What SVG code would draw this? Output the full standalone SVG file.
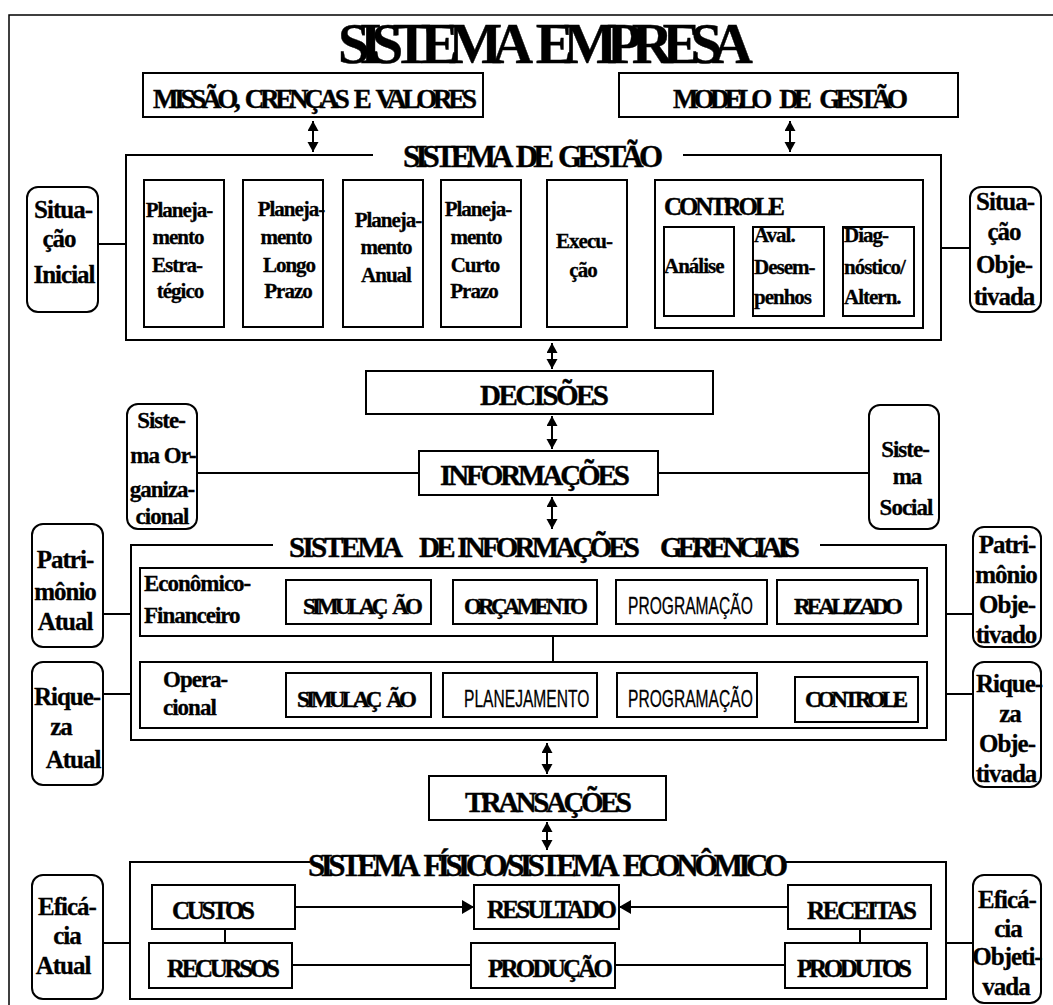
<svg xmlns="http://www.w3.org/2000/svg" width="1053" height="1005" viewBox="0 0 1053 1005">
<style>
.bx{fill:#fff;stroke:#000;stroke-width:2}
.fr{fill:none;stroke:#000;stroke-width:2}
.ln{fill:none;stroke:#000;stroke-width:2}
.t{font-family:"Liberation Serif","Times New Roman",serif;font-weight:bold;fill:#000;stroke:#000;stroke-width:0.4;word-spacing:6px}
.l{font-family:"Liberation Serif","Times New Roman",serif;font-weight:bold;fill:#000;stroke:#000;stroke-width:0.3;letter-spacing:-1px;text-anchor:middle}
.ls{text-anchor:start}
.s{font-family:"Liberation Sans",Arial,sans-serif;font-weight:normal;fill:#000;stroke:#000;stroke-width:0.3;font-size:24px}
.f20{font-size:21px}.f22{font-size:23px}.f24{font-size:25px}.f26{font-size:27px}.f28{font-size:29px}.f30{font-size:31px}
</style>
<defs>
<marker id="da" markerUnits="userSpaceOnUse" markerWidth="12" markerHeight="12" refX="10" refY="5.5" orient="auto-start-reverse"><path d="M0,0 L10,5.5 L0,11 z" fill="#000"/></marker>
<marker id="ah" markerUnits="userSpaceOnUse" markerWidth="14" markerHeight="16" refX="12" refY="7" orient="auto"><path d="M0,0 L12,7 L0,14 z" fill="#000"/></marker>
</defs>
<rect width="1053" height="1005" fill="#fff"/>
<path d="M9,1005 V15 H1053" fill="none" stroke="#000" stroke-width="1.5"/>
<text class="t" x="338" y="63" font-size="57" style="word-spacing:12px" textLength="415" lengthAdjust="spacing">SISTEMA EMPRESA</text>

<g id="connectors">
<line class="ln" x1="313" y1="121" x2="313" y2="152" stroke-width="1.5" marker-start="url(#da)" marker-end="url(#da)"/>
<line class="ln" x1="790" y1="121" x2="790" y2="152" stroke-width="1.5" marker-start="url(#da)" marker-end="url(#da)"/>
<line class="ln" x1="552" y1="343" x2="552" y2="369" stroke-width="1.5" marker-start="url(#da)" marker-end="url(#da)"/>
<line class="ln" x1="552" y1="416" x2="552" y2="449" stroke-width="1.5" marker-start="url(#da)" marker-end="url(#da)"/>
<line class="ln" x1="552" y1="497" x2="552" y2="529" stroke-width="1.5" marker-start="url(#da)" marker-end="url(#da)"/>
<line class="ln" x1="547" y1="743" x2="547" y2="774" stroke-width="1.5" marker-start="url(#da)" marker-end="url(#da)"/>
<line class="ln" x1="547" y1="822" x2="547" y2="850" stroke-width="1.5" marker-start="url(#da)" marker-end="url(#da)"/>
<line class="ln" x1="98" y1="244" x2="126" y2="244"/>
<line class="ln" x1="941" y1="248" x2="970" y2="248"/>
<line class="ln" x1="197" y1="473" x2="419" y2="473"/>
<line class="ln" x1="658" y1="473" x2="869" y2="473"/>
<line class="ln" x1="103" y1="614" x2="131" y2="614"/>
<line class="ln" x1="103" y1="694" x2="131" y2="694"/>
<line class="ln" x1="946" y1="614" x2="973" y2="614"/>
<line class="ln" x1="946" y1="694" x2="973" y2="694"/>
<line class="ln" x1="553" y1="636" x2="553" y2="662"/>
<line class="ln" x1="103" y1="943" x2="130" y2="943"/>
<line class="ln" x1="946" y1="943" x2="973" y2="943"/>
<line class="ln" x1="225" y1="929" x2="225" y2="943"/>
<line class="ln" x1="860" y1="929" x2="860" y2="943"/>
<line class="ln" x1="295" y1="907" x2="474" y2="907" marker-end="url(#ah)"/>
<line class="ln" x1="788" y1="907" x2="619" y2="907" marker-end="url(#ah)"/>
<line class="ln" x1="292" y1="965" x2="471" y2="965"/>
<line class="ln" x1="615" y1="965" x2="785" y2="965"/>
</g>

<g id="missao"><rect class="bx" x="143" y="73" width="340" height="44"/>
<text class="t f26" x="153" y="108" textLength="324" lengthAdjust="spacing">MISSÃO, CRENÇAS E VALORES</text></g>
<g id="modelo"><rect class="bx" x="619" y="73" width="339" height="44"/>
<text class="t f26" x="673" y="108" style="word-spacing:10px" textLength="235" lengthAdjust="spacing">MODELO DE GESTÃO</text></g>

<g id="sistema-gestao">
<path class="fr" d="M373,155 H126 V340 H941 V155 H683"/>
<text class="t f30" x="403" y="167" textLength="260" lengthAdjust="spacing">SISTEMA DE GESTÃO</text>
</g>
<g id="plan-estrategico"><rect class="bx" x="144" y="180" width="80" height="147"/>
<text class="l f20" x="179" y="217">Planeja-</text>
<text class="l f20" x="178" y="244">mento</text>
<text class="l f20" x="177" y="272">Estra-</text>
<text class="l f20" x="180" y="298">tégico</text></g>
<g id="plan-longo"><rect class="bx" x="243" y="180" width="80" height="147"/>
<text class="l f20" x="291" y="216">Planeja-</text>
<text class="l f20" x="286" y="244">mento</text>
<text class="l f20" x="289" y="272">Longo</text>
<text class="l f20" x="288" y="298">Prazo</text></g>
<g id="plan-anual"><rect class="bx" x="343" y="180" width="80" height="147"/>
<text class="l f20" x="388" y="227">Planeja-</text>
<text class="l f20" x="386" y="254">mento</text>
<text class="l f20" x="386" y="282">Anual</text></g>
<g id="plan-curto"><rect class="bx" x="441" y="180" width="80" height="147"/>
<text class="l f20" x="478" y="216">Planeja-</text>
<text class="l f20" x="476" y="244">mento</text>
<text class="l f20" x="475" y="272">Curto</text>
<text class="l f20" x="474" y="298">Prazo</text></g>
<g id="execucao"><rect class="bx" x="547" y="180" width="80" height="147"/>
<text class="l f20" x="584" y="248">Execu-</text>
<text class="l f20" x="583" y="277">ção</text></g>
<g id="controle"><rect class="bx" x="655" y="180" width="268" height="148"/>
<text class="t f24" x="664" y="215" textLength="121" lengthAdjust="spacing">CONTROLE</text></g>
<g id="analise"><rect class="bx" x="664" y="227" width="70" height="89"/>
<text class="l ls f20" x="664" y="273">Análise</text></g>
<g id="aval"><rect class="bx" x="753" y="227" width="71" height="89"/>
<text class="l ls f20" x="754" y="242">Aval.</text>
<text class="l ls f20" x="754" y="274">Desem-</text>
<text class="l ls f20" x="754" y="304">penhos</text></g>
<g id="diag"><rect class="bx" x="843" y="227" width="71" height="89"/>
<text class="l ls f20" x="844" y="242">Diag-</text>
<text class="l ls f20" x="844" y="274">nóstico/</text>
<text class="l ls f20" x="844" y="304">Altern.</text></g>

<g id="sit-inicial"><rect class="bx" x="27" y="187" width="71" height="125" rx="11"/>
<text class="l f24" x="63" y="218">Situa-</text>
<text class="l f24" x="59" y="247">ção</text>
<text class="l f24" x="64" y="283">Inicial</text></g>
<g id="sit-objetivada"><rect class="bx" x="970" y="187" width="71" height="125" rx="11"/>
<text class="l f24" x="1005" y="210">Situa-</text>
<text class="l f24" x="1004" y="240">ção</text>
<text class="l f24" x="1004" y="273">Obje-</text>
<text class="l f24" x="1004" y="305">tivada</text></g>

<g id="decisoes"><rect class="bx" x="366" y="371" width="347" height="43"/>
<text class="t f28" x="480" y="405" textLength="129" lengthAdjust="spacing">DECISÕES</text></g>
<g id="informacoes"><rect class="bx" x="419" y="451" width="239" height="44"/>
<text class="t f28" x="440" y="485" textLength="190" lengthAdjust="spacing">INFORMAÇÕES</text></g>
<g id="sis-organizacional"><rect class="bx" x="127" y="404" width="70" height="125" rx="11"/>
<text class="l f22" x="161" y="428">Siste-</text>
<text class="l f22" x="163" y="463">ma Or-</text>
<text class="l f22" x="162" y="497">ganiza-</text>
<text class="l f22" x="162" y="524">cional</text></g>
<g id="sis-social"><rect class="bx" x="869" y="405" width="70" height="124" rx="11"/>
<text class="l f22" x="905" y="457">Siste-</text>
<text class="l f22" x="907" y="484">ma</text>
<text class="l f22" x="906" y="515">Social</text></g>

<g id="sig">
<path class="fr" d="M273,545 H131 V740 H946 V545 H820"/>
<text class="t f28" x="289" y="557" textLength="114" lengthAdjust="spacing">SISTEMA</text>
<text class="t f28" x="419" y="557" style="word-spacing:2px" textLength="221" lengthAdjust="spacing">DE INFORMAÇÕES</text>
<text class="t f28" x="660" y="557" textLength="140" lengthAdjust="spacing">GERENCIAIS</text>
</g>
<g id="economico-financeiro"><rect class="bx" x="140" y="568" width="787" height="68"/>
<text class="l ls f22" x="144" y="591">Econômico-</text>
<text class="l ls f22" x="144" y="623">Financeiro</text></g>
<g id="ef-simulacao"><rect class="bx" x="286" y="580" width="145" height="44"/>
<text class="t f22" x="303" y="614" textLength="120" lengthAdjust="spacing">SIMULAÇ ÃO</text></g>
<g id="ef-orcamento"><rect class="bx" x="453" y="580" width="144" height="44"/>
<text class="t f22" x="464" y="614" textLength="124" lengthAdjust="spacing">ORÇAMENTO</text></g>
<g id="ef-programacao"><rect class="bx" x="616" y="580" width="151" height="44"/>
<text class="s" transform="translate(628,614) scale(0.65,1)">PROGRAMAÇÃO</text></g>
<g id="ef-realizado"><rect class="bx" x="777" y="580" width="141" height="44"/>
<text class="t f22" x="794" y="614" textLength="109" lengthAdjust="spacing">REALIZADO</text></g>
<g id="operacional"><rect class="bx" x="140" y="662" width="787" height="66"/>
<text class="l ls f22" x="163" y="687">Opera-</text>
<text class="l ls f22" x="163" y="715">cional</text></g>
<g id="op-simulacao"><rect class="bx" x="286" y="673" width="145" height="44"/>
<text class="t f22" x="297" y="707" textLength="120" lengthAdjust="spacing">SIMULAÇ ÃO</text></g>
<g id="op-planejamento"><rect class="bx" x="443" y="673" width="154" height="44"/>
<text class="s" transform="translate(464,707) scale(0.65,1)">PLANEJAMENTO</text></g>
<g id="op-programacao"><rect class="bx" x="617" y="673" width="140" height="44"/>
<text class="s" transform="translate(628,707) scale(0.65,1)">PROGRAMAÇÃO</text></g>
<g id="op-controle"><rect class="bx" x="795" y="677" width="123" height="45"/>
<text class="t f22" x="805" y="707" textLength="103" lengthAdjust="spacing">CONTROLE</text></g>

<g id="patrimonio-atual"><rect class="bx" x="32" y="524" width="71" height="123" rx="11"/>
<text class="l f24" x="65" y="568">Patri-</text>
<text class="l f24" x="65" y="600">mônio</text>
<text class="l f24" x="65" y="630">Atual</text></g>
<g id="riqueza-atual"><rect class="bx" x="32" y="662" width="71" height="123" rx="11"/>
<text class="l f24" x="67" y="705">Rique-</text>
<text class="l f24" x="61" y="735">za</text>
<text class="l f24" x="73" y="768">Atual</text></g>
<g id="patrimonio-objetivado"><rect class="bx" x="973" y="527" width="68" height="120" rx="11"/>
<text class="l f24" x="1007" y="553">Patri-</text>
<text class="l f24" x="1006" y="583">mônio</text>
<text class="l f24" x="1007" y="613">Obje-</text>
<text class="l f24" x="1006" y="643">tivado</text></g>
<g id="riqueza-objetivada"><rect class="bx" x="973" y="662" width="68" height="125" rx="11"/>
<text class="l f24" x="1009" y="692">Rique-</text>
<text class="l f24" x="1010" y="722">za</text>
<text class="l f24" x="1007" y="752">Obje-</text>
<text class="l f24" x="1006" y="782">tivada</text></g>

<g id="transacoes"><rect class="bx" x="429" y="776" width="237" height="44"/>
<text class="t f28" x="465" y="812" textLength="167" lengthAdjust="spacing">TRANSAÇÕES</text></g>

<g id="sistema-fisico">
<path class="fr" d="M310,862 H130 V999 H946 V862 H786"/>
<text class="t f30" x="308" y="876" textLength="480" lengthAdjust="spacing">SISTEMA FÍSICO/SISTEMA ECONÔMICO</text>
</g>
<g id="custos"><rect class="bx" x="152" y="885" width="143" height="44"/>
<text class="t f24" x="172" y="919" textLength="83" lengthAdjust="spacing">CUSTOS</text></g>
<g id="recursos"><rect class="bx" x="149" y="943" width="143" height="45"/>
<text class="t f24" x="167" y="977" textLength="113" lengthAdjust="spacing">RECURSOS</text></g>
<g id="resultado"><rect class="bx" x="474" y="885" width="145" height="44"/>
<text class="t f24" x="487" y="918" textLength="130" lengthAdjust="spacing">RESULTADO</text></g>
<g id="producao"><rect class="bx" x="471" y="943" width="144" height="45"/>
<text class="t f24" x="488" y="977" textLength="125" lengthAdjust="spacing">PRODUÇÃO</text></g>
<g id="receitas"><rect class="bx" x="788" y="885" width="143" height="44"/>
<text class="t f24" x="807" y="919" textLength="110" lengthAdjust="spacing">RECEITAS</text></g>
<g id="produtos"><rect class="bx" x="785" y="943" width="142" height="45"/>
<text class="t f24" x="797" y="977" textLength="115" lengthAdjust="spacing">PRODUTOS</text></g>
<g id="eficacia-atual"><rect class="bx" x="32" y="875" width="71" height="124" rx="11"/>
<text class="l f24" x="67" y="915">Eficá-</text>
<text class="l f24" x="67" y="944">cia</text>
<text class="l f24" x="63" y="974">Atual</text></g>
<g id="eficacia-objetivada"><rect class="bx" x="973" y="875" width="68" height="128" rx="11"/>
<text class="l f24" x="1007" y="908">Eficá-</text>
<text class="l f24" x="1008" y="937">cia</text>
<text class="l f24" x="1007" y="965">Objeti-</text>
<text class="l f24" x="1006" y="995">vada</text></g>
</svg>
